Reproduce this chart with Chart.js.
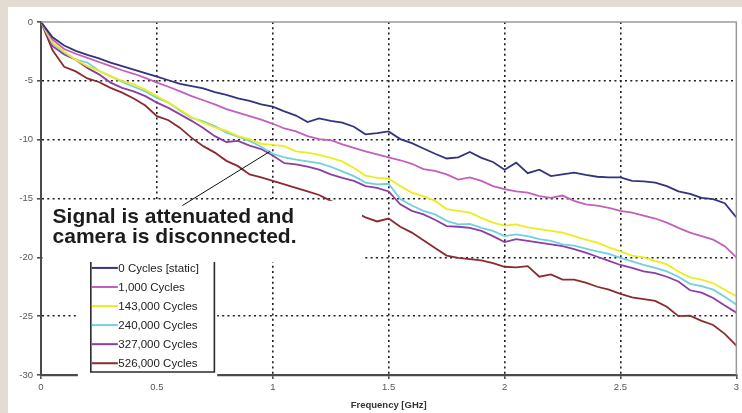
<!DOCTYPE html>
<html>
<head>
<meta charset="utf-8">
<script src="https://cdn.jsdelivr.net/npm/chart.js@4.4.1/dist/chart.umd.min.js"></script>
<style>
  html, body { margin: 0; padding: 0; background: #e3dcd3; }
  #wrap { position: absolute; left: 0; top: 0; width: 742px; height: 413px; }
  canvas { display: block; }
</style>
</head>
<body>
<div id="wrap"><canvas id="c" width="742" height="413" style="width:742px;height:413px"></canvas></div>
<script>
// ---- Data ----
const freqGHz = [0,0.05,0.1,0.15,0.2,0.25,0.3,0.35,0.4,0.45,0.5,0.55,0.6,0.65,0.7,0.75,0.8,0.85,0.9,0.95,1.0,
  1.05,1.1,1.15,1.2,1.25,1.3,1.35,1.4,1.45,1.5,1.55,1.6,1.65,1.7,1.75,1.8,1.85,1.9,1.95,2.0,
  2.05,2.1,2.15,2.2,2.25,2.3,2.35,2.4,2.45,2.5,2.55,2.6,2.65,2.7,2.75,2.8,2.85,2.9,2.95,3.0];

const seriesLabels = ['0 Cycles [static]','1,000 Cycles','143,000 Cycles','240,000 Cycles','327,000 Cycles','526,000 Cycles'];

const cycles0 = [0,-1.3,-2.0,-2.45,-2.8,-3.1,-3.45,-3.75,-4.05,-4.35,-4.65,-4.95,-5.25,-5.45,-5.65,-5.95,-6.2,-6.5,-6.7,-7.0,-7.2,
  -7.6,-7.95,-8.5,-8.2,-8.4,-8.55,-8.9,-9.55,-9.45,-9.3,-9.95,-10.3,-10.75,-11.2,-11.6,-11.5,-11.05,-11.55,-11.9,-12.55,
  -11.95,-12.85,-12.55,-13.1,-12.95,-12.8,-13.0,-13.15,-13.2,-13.2,-13.5,-13.55,-13.65,-13.95,-14.4,-14.6,-14.95,-15.05,-15.4,-16.6];

const cycles1000 = [0,-1.5,-2.3,-2.7,-3.05,-3.4,-3.75,-4.1,-4.4,-4.75,-5.15,-5.5,-5.9,-6.3,-6.65,-7.0,-7.4,-7.7,-8.0,-8.3,-8.65,
  -9.05,-9.3,-9.7,-9.95,-10.05,-10.4,-10.7,-11.0,-11.25,-11.5,-11.75,-12.05,-12.5,-12.65,-12.95,-13.4,-13.2,-13.5,-13.95,-14.2,
  -14.4,-14.5,-14.8,-14.95,-14.75,-15.2,-15.5,-15.6,-15.8,-16.05,-16.2,-16.45,-16.7,-17.05,-17.5,-17.9,-18.2,-18.5,-19.05,-20.0];

const cycles143k = [0,-1.75,-2.5,-3.2,-3.75,-4.15,-4.6,-5.0,-5.3,-5.75,-6.3,-6.85,-7.45,-8.1,-8.55,-8.95,-9.25,-9.7,-9.95,-10.35,-10.45,
  -10.55,-11.0,-11.1,-11.3,-11.55,-11.85,-12.4,-13.05,-13.25,-13.3,-13.95,-14.5,-14.8,-15.2,-15.9,-16.05,-16.2,-16.65,-17.05,-17.3,
  -17.2,-17.45,-17.6,-17.75,-17.9,-18.2,-18.5,-18.75,-19.15,-19.5,-19.85,-20.0,-20.3,-20.6,-21.2,-21.7,-21.9,-22.2,-22.75,-23.3];

const cycles240k = [0,-1.85,-2.6,-3.2,-3.45,-4.15,-4.6,-5.1,-5.5,-5.9,-6.45,-6.85,-7.55,-8.15,-8.45,-8.85,-9.4,-9.75,-10.1,-10.6,-11.2,
  -11.5,-11.7,-11.85,-12.0,-12.3,-12.7,-13.1,-13.65,-13.8,-13.75,-15.05,-15.6,-16.05,-16.35,-16.9,-17.2,-17.15,-17.5,-17.75,-18.2,
  -18.05,-18.2,-18.45,-18.6,-18.9,-19.0,-19.25,-19.5,-19.7,-20.05,-20.35,-20.65,-20.9,-21.2,-21.65,-22.25,-22.45,-22.75,-23.35,-24.0];

const cycles327k = [0,-2.05,-2.75,-3.2,-3.9,-4.45,-5.15,-5.6,-5.9,-6.3,-6.85,-7.3,-7.85,-8.4,-9.0,-9.7,-10.2,-10.1,-10.5,-10.8,-11.35,
  -12.0,-12.1,-12.3,-12.55,-12.95,-13.25,-13.5,-13.95,-14.1,-14.4,-15.5,-16.05,-16.35,-16.8,-17.35,-17.4,-17.5,-17.75,-18.2,-18.7,
  -18.45,-18.6,-18.75,-18.9,-19.05,-19.3,-19.6,-19.95,-20.3,-20.65,-20.9,-21.2,-21.35,-21.65,-22.05,-22.8,-23.0,-23.45,-24.1,-24.7];

const cycles526k = [0,-2.4,-3.8,-4.2,-4.8,-5.1,-5.6,-6.0,-6.5,-7.1,-8.0,-8.35,-9.0,-9.85,-10.55,-11.1,-11.8,-12.25,-12.95,-13.2,-13.5,
  -13.8,-14.1,-14.4,-14.7,-15.2,-15.6,-16.1,-16.6,-16.95,-16.7,-17.4,-17.9,-18.55,-19.2,-19.85,-20.05,-20.15,-20.25,-20.5,-20.8,
  -20.85,-20.75,-21.65,-21.45,-21.9,-21.9,-22.15,-22.5,-22.75,-23.1,-23.4,-23.55,-23.7,-24.2,-25.0,-24.95,-25.4,-25.75,-26.5,-27.5];

const xTicks = [0, 0.5, 1, 1.5, 2, 2.5, 3];
const yTicks = [-30, -25, -20, -15, -10, -5, 0];
const xTitle = 'Frequency [GHz]';
const noteLines = ['Signal is attenuated and', 'camera is disconnected.'];

// ---- Styles ----
const seriesColors = ['#33337e', '#c35fbd', '#eded1e', '#72d0df', '#8c3ea6', '#8a2b31'];
const FONT = '"Liberation Sans", Arial, Helvetica, sans-serif';

const allSeries = [cycles0, cycles1000, cycles143k, cycles240k, cycles327k, cycles526k];
const datasets = allSeries.map((vals, i) => ({
  label: seriesLabels[i],
  data: freqGHz.map((f, j) => ({ x: f, y: vals[j] })),
  borderColor: seriesColors[i],
  backgroundColor: seriesColors[i],
  borderWidth: 1.8,
  pointRadius: 0,
  tension: 0,
  fill: false
}));

const bgPlugin = {
  id: 'bg',
  beforeDraw(chart) {
    const c = chart.ctx;
    c.save();
    c.fillStyle = '#e3dcd3';
    c.fillRect(0, 0, chart.width, chart.height);
    c.fillStyle = '#ffffff';
    c.fillRect(8, 7, chart.width - 8, chart.height - 7);
    c.restore();
  }
};

const overlayPlugin = {
  id: 'overlay',
  afterDatasetsDraw(chart) {
    const c = chart.ctx;
    const xs = chart.scales.x, ys = chart.scales.y;
    const a = chart.chartArea;
    c.save();
    // top and right frame lines
    c.strokeStyle = '#9a9a9a';
    c.lineWidth = 1.5;
    c.beginPath();
    c.moveTo(a.left, a.top); c.lineTo(a.right, a.top); c.lineTo(a.right, a.bottom);
    c.stroke();

    // white box behind annotation
    c.fillStyle = '#ffffff';
    const bx1 = xs.getPixelForValue(0) + 1.5, bx2 = xs.getPixelForValue(1.385);
    const by1 = ys.getPixelForValue(-15.2), by2 = ys.getPixelForValue(-20.4);
    c.fillRect(bx1, by1, bx2 - bx1, by2 - by1);

    // legend white area
    const lx1 = xs.getPixelForValue(0.159), lx2 = xs.getPixelForValue(0.76);
    const ly1 = ys.getPixelForValue(-19.7);
    c.fillRect(lx1, ly1, lx2 - lx1, a.bottom + 4 - ly1);

    // legend frame (left, right, bottom)
    const fx1 = xs.getPixelForValue(0.215), fx2 = xs.getPixelForValue(0.748);
    const fy1 = ys.getPixelForValue(-20.4), fy2 = ys.getPixelForValue(-29.75);
    c.strokeStyle = '#2a2a2a';
    c.lineWidth = 1.6;
    c.beginPath();
    c.moveTo(fx1, fy1); c.lineTo(fx1, fy2); c.lineTo(fx2, fy2); c.lineTo(fx2, fy1);
    c.stroke();

    // legend entries
    c.font = '11.5px ' + FONT;
    c.textBaseline = 'middle';
    c.textAlign = 'left';
    const y0 = ys.getPixelForValue(-20.9);
    const step = (ys.getPixelForValue(-29.0) - y0) / 5;
    chart.data.datasets.forEach((ds, i) => {
      const yy = y0 + i * step;
      c.strokeStyle = ds.borderColor;
      c.lineWidth = 2;
      c.beginPath();
      c.moveTo(fx1 + 1, yy); c.lineTo(fx1 + 27, yy);
      c.stroke();
      c.fillStyle = '#222222';
      c.fillText(ds.label, fx1 + 27.5, yy + 0.5);
    });

    // annotation text
    c.fillStyle = '#1c1c1c';
    c.font = 'bold 21px ' + FONT;
    c.textBaseline = 'alphabetic';
    const tx = xs.getPixelForValue(0.05);
    c.fillText(noteLines[0], tx, ys.getPixelForValue(-17.1));
    c.fillText(noteLines[1], tx, ys.getPixelForValue(-18.8));

    // pointer line
    c.strokeStyle = '#111111';
    c.lineWidth = 1;
    c.beginPath();
    c.moveTo(xs.getPixelForValue(0.61), ys.getPixelForValue(-15.6));
    c.lineTo(xs.getPixelForValue(0.988), ys.getPixelForValue(-11.0));
    c.stroke();
    c.restore();
  }
};

const edgeColor = (edges) => (ctx) => (edges.includes(ctx.tick && ctx.tick.value) ? 'rgba(0,0,0,0)' : '#1e1e1e');

new Chart(document.getElementById('c'), {
  type: 'line',
  data: { datasets },
  options: {
    responsive: false,
    animation: false,
    devicePixelRatio: 1,
    layout: { padding: { top: 22, right: 3, left: 0, bottom: 0 } },
    plugins: { legend: { display: false }, tooltip: { enabled: false } },
    scales: {
      x: {
        type: 'linear', min: 0, max: 3,
        afterBuildTicks(s) { s.ticks = xTicks.map(v => ({ value: v })); },
        afterFit(s) { s.height = 38; },
        ticks: {
          color: '#555', font: { family: FONT, size: 9.5 }, padding: 3,
          maxRotation: 0, autoSkip: false,
          callback: (v) => String(v)
        },
        grid: {
          color: edgeColor([0, 3]), lineWidth: 1.6,
          drawTicks: true, tickLength: 4, tickColor: '#444', tickWidth: 1.5, tickBorderDash: []
        },
        border: { display: true, color: '#4a4a4a', width: 2.2, dash: [2, 3.3] },
        title: { display: true, text: xTitle, color: '#333', font: { family: FONT, size: 9.5, weight: 'bold' }, padding: { top: 0, bottom: 1.5 } }
      },
      y: {
        type: 'linear', min: -30, max: 0,
        afterBuildTicks(s) { s.ticks = yTicks.map(v => ({ value: v })); },
        afterFit(s) { s.width = 41; },
        ticks: { color: '#555', font: { family: FONT, size: 9.5 }, padding: 4, callback: (v) => String(v) },
        grid: {
          color: edgeColor([0, -30]), lineWidth: 1.6,
          drawTicks: true, tickLength: 4, tickColor: '#444', tickWidth: 1.5, tickBorderDash: []
        },
        border: { display: true, color: '#4a4a4a', width: 2, dash: [2, 3.3] }
      }
    }
  },
  plugins: [bgPlugin, overlayPlugin]
});
</script>
</body>
</html>
